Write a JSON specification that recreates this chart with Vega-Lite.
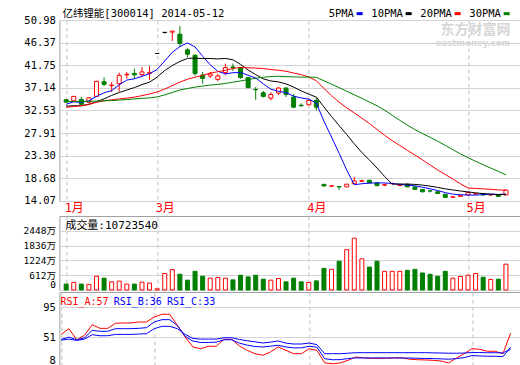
{
"$schema": "https://vega.github.io/schema/vega-lite/v6.json",
"usermeta": {"embedOptions": {"actions": false}},
"background": "white",
"padding": {"left": 22.4, "top": 8, "right": 0, "bottom": 0},
"spacing": 0,
"config": {
  "font": "DejaVu Sans Mono, Noto Sans CJK SC",
  "view": {"stroke": "#a0a0a0", "strokeWidth": 1},
  "axis": {"labelFont": "DejaVu Sans Mono, Noto Sans CJK SC", "labelFontSize": 10.5, "labelColor": "#000000", "ticks": false, "domain": false, "gridColor": "#d4d4d4", "gridWidth": 1, "labelPadding": 4, "labelOverlap": false}
},
"datasets": {"k": [
{"i":0,"o":34.72,"h":34.9,"l":34.1,"c":34.24,"v":245,"5PMA":33.8,"10PMA":33.4,"20PMA":33.2,"30PMA":34.35,"RSI_A":55,"RSI_B":47.5,"RSI_C":46.5},
{"i":1,"o":34.5,"h":35.5,"l":34.4,"c":35.4,"v":314,"5PMA":34.3,"10PMA":33.5,"20PMA":33.35,"30PMA":34.37,"RSI_A":63.5,"RSI_B":51,"RSI_C":48},
{"i":2,"o":34.8,"h":35.3,"l":33.55,"c":33.8,"v":245,"5PMA":34.2,"10PMA":33.5,"20PMA":33.5,"30PMA":34.38,"RSI_A":47,"RSI_B":47,"RSI_C":46},
{"i":3,"o":34.2,"h":35.2,"l":34.0,"c":35.1,"v":233,"5PMA":34.5,"10PMA":33.8,"20PMA":33.75,"30PMA":34.4,"RSI_A":53.6,"RSI_B":50,"RSI_C":48},
{"i":4,"o":35.4,"h":38.6,"l":35.3,"c":38.47,"v":571,"5PMA":35.4,"10PMA":34.3,"20PMA":34.2,"30PMA":34.45,"RSI_A":69.4,"RSI_B":61,"RSI_C":54.6},
{"i":5,"o":38.4,"h":39.3,"l":37.5,"c":37.86,"v":490,"5PMA":36.13,"10PMA":34.9,"20PMA":34.5,"30PMA":34.5,"RSI_A":64,"RSI_B":59.6,"RSI_C":53},
{"i":6,"o":37.6,"h":38.3,"l":36.3,"c":37.7,"v":339,"5PMA":36.59,"10PMA":35.6,"20PMA":34.7,"30PMA":34.55,"RSI_A":64,"RSI_B":59.6,"RSI_C":53},
{"i":7,"o":38.0,"h":40.26,"l":36.4,"c":39.7,"v":367,"5PMA":37.77,"10PMA":36.2,"20PMA":34.9,"30PMA":34.65,"RSI_A":71.5,"RSI_B":63.5,"RSI_C":55},
{"i":8,"o":39.8,"h":40.4,"l":39.0,"c":39.9,"v":245,"5PMA":38.73,"10PMA":36.7,"20PMA":35.05,"30PMA":34.75,"RSI_A":72,"RSI_B":63.5,"RSI_C":55},
{"i":9,"o":40.1,"h":41.07,"l":39.0,"c":39.8,"v":245,"5PMA":38.99,"10PMA":37.2,"20PMA":35.25,"30PMA":34.9,"RSI_A":72,"RSI_B":63.5,"RSI_C":55},
{"i":10,"o":39.85,"h":41.4,"l":39.56,"c":40.4,"v":326,"5PMA":39.5,"10PMA":37.81,"20PMA":35.55,"30PMA":35.0,"RSI_A":73.4,"RSI_B":64,"RSI_C":55.5},
{"i":11,"o":40.1,"h":41.6,"l":38.7,"c":40.3,"v":286,"5PMA":40.02,"10PMA":38.3,"20PMA":35.9,"30PMA":35.1,"RSI_A":73.4,"RSI_B":65,"RSI_C":56},
{"i":12,"o":44.15,"h":44.15,"l":44.15,"c":44.15,"v":50,"5PMA":40.91,"10PMA":39.34,"20PMA":36.3,"30PMA":35.3,"RSI_A":80.9,"RSI_B":73.4,"RSI_C":63.5},
{"i":13,"o":48.45,"h":48.45,"l":48.2,"c":48.45,"v":681,"5PMA":42.62,"10PMA":40.67,"20PMA":36.9,"30PMA":35.7,"RSI_A":84.9,"RSI_B":76.9,"RSI_C":67},
{"i":14,"o":48.5,"h":48.75,"l":46.7,"c":48.7,"v":845,"5PMA":44.4,"10PMA":41.7,"20PMA":37.6,"30PMA":36.2,"RSI_A":84.9,"RSI_B":76.9,"RSI_C":67},
{"i":15,"o":48.1,"h":49.75,"l":45.5,"c":46.2,"v":653,"5PMA":45.56,"10PMA":42.53,"20PMA":38.3,"30PMA":36.7,"RSI_A":68.5,"RSI_B":68,"RSI_C":63.5},
{"i":16,"o":44.9,"h":45.2,"l":43.4,"c":44.0,"v":408,"5PMA":46.3,"10PMA":43.16,"20PMA":38.9,"30PMA":37.0,"RSI_A":51,"RSI_B":52,"RSI_C":55},
{"i":17,"o":43.8,"h":44.0,"l":39.6,"c":40.05,"v":775,"5PMA":45.48,"10PMA":43.2,"20PMA":39.3,"30PMA":37.3,"RSI_A":36.3,"RSI_B":45,"RSI_C":49},
{"i":18,"o":39.75,"h":40.4,"l":38.0,"c":39.05,"v":571,"5PMA":43.6,"10PMA":43.11,"20PMA":39.7,"30PMA":37.5,"RSI_A":33.7,"RSI_B":43,"RSI_C":48},
{"i":19,"o":39.56,"h":40.4,"l":39.2,"c":39.97,"v":490,"5PMA":41.85,"10PMA":43.13,"20PMA":40.16,"30PMA":37.7,"RSI_A":37.3,"RSI_B":43,"RSI_C":48},
{"i":20,"o":38.88,"h":40.0,"l":38.5,"c":39.56,"v":518,"5PMA":40.53,"10PMA":43.04,"20PMA":40.43,"30PMA":37.85,"RSI_A":37.3,"RSI_B":43.5,"RSI_C":48},
{"i":21,"o":40.25,"h":42.1,"l":39.7,"c":41.28,"v":490,"5PMA":39.98,"10PMA":43.14,"20PMA":40.72,"30PMA":38.05,"RSI_A":47.7,"RSI_B":47,"RSI_C":50},
{"i":22,"o":41.4,"h":42.1,"l":40.6,"c":41.3,"v":420,"5PMA":40.23,"10PMA":42.86,"20PMA":41.1,"30PMA":38.3,"RSI_A":47.7,"RSI_B":47,"RSI_C":50},
{"i":23,"o":41.28,"h":41.4,"l":39.0,"c":39.23,"v":612,"5PMA":40.27,"10PMA":41.93,"20PMA":41.3,"30PMA":38.55,"RSI_A":37.7,"RSI_B":42,"RSI_C":47.5},
{"i":24,"o":39.23,"h":39.3,"l":37.1,"c":37.18,"v":543,"5PMA":39.71,"10PMA":40.78,"20PMA":41.24,"30PMA":38.85,"RSI_A":31.3,"RSI_B":39,"RSI_C":45.5},
{"i":25,"o":36.8,"h":37.3,"l":34.7,"c":36.75,"v":612,"5PMA":39.15,"10PMA":39.84,"20PMA":41.18,"30PMA":39.1,"RSI_A":26.3,"RSI_B":37,"RSI_C":44},
{"i":26,"o":36.15,"h":36.5,"l":35.2,"c":35.4,"v":449,"5PMA":37.97,"10PMA":38.98,"20PMA":41.07,"30PMA":39.3,"RSI_A":23.9,"RSI_B":36.3,"RSI_C":42.2},
{"i":27,"o":35.05,"h":36.2,"l":34.6,"c":35.8,"v":408,"5PMA":36.87,"10PMA":38.55,"20PMA":40.87,"30PMA":39.45,"RSI_A":28.8,"RSI_B":37.5,"RSI_C":43.5},
{"i":28,"o":36.1,"h":37.3,"l":35.7,"c":37.1,"v":477,"5PMA":36.45,"10PMA":38.36,"20PMA":40.73,"30PMA":39.5,"RSI_A":36.3,"RSI_B":38.8,"RSI_C":45.2},
{"i":29,"o":37.1,"h":37.3,"l":35.3,"c":35.8,"v":339,"5PMA":36.17,"10PMA":37.94,"20PMA":40.53,"30PMA":39.42,"RSI_A":31.3,"RSI_B":36.3,"RSI_C":42},
{"i":30,"o":35.25,"h":35.9,"l":33.0,"c":33.2,"v":490,"5PMA":35.46,"10PMA":37.3,"20PMA":40.17,"30PMA":39.39,"RSI_A":26.3,"RSI_B":35,"RSI_C":40.7},
{"i":31,"o":33.6,"h":34.0,"l":33.3,"c":33.5,"v":339,"5PMA":35.08,"10PMA":36.53,"20PMA":39.83,"30PMA":39.32,"RSI_A":26.3,"RSI_B":35,"RSI_C":40.7},
{"i":32,"o":33.7,"h":34.7,"l":33.6,"c":34.6,"v":314,"5PMA":34.84,"10PMA":35.86,"20PMA":39.36,"30PMA":39.35,"RSI_A":33.7,"RSI_B":37.3,"RSI_C":42.2},
{"i":33,"o":34.6,"h":35.1,"l":32.5,"c":33.2,"v":379,"5PMA":34.06,"10PMA":35.25,"20PMA":38.59,"30PMA":39.29,"RSI_A":31.3,"RSI_B":36,"RSI_C":39.7},
{"i":34,"o":17.45,"h":17.6,"l":17.0,"c":17.15,"v":898,"5PMA":30.33,"10PMA":33.25,"20PMA":37.02,"30PMA":38.58,"RSI_A":12.5,"RSI_B":18.9,"RSI_C":26.3},
{"i":35,"o":17.1,"h":17.3,"l":17.0,"c":17.15,"v":857,"5PMA":27.12,"10PMA":31.29,"20PMA":35.56,"30PMA":37.89,"RSI_A":11.4,"RSI_B":17.3,"RSI_C":26.3},
{"i":36,"o":17.0,"h":17.0,"l":16.3,"c":16.95,"v":1195,"5PMA":23.81,"10PMA":29.45,"20PMA":34.21,"30PMA":37.19,"RSI_A":12.5,"RSI_B":17.5,"RSI_C":26.3},
{"i":37,"o":16.95,"h":17.55,"l":16.9,"c":17.5,"v":1673,"5PMA":20.39,"10PMA":27.62,"20PMA":33.08,"30PMA":36.45,"RSI_A":16.4,"RSI_B":19,"RSI_C":27},
{"i":38,"o":17.6,"h":19.0,"l":17.5,"c":18.17,"v":2150,"5PMA":17.38,"10PMA":25.72,"20PMA":32.04,"30PMA":35.73,"RSI_A":21.4,"RSI_B":20,"RSI_C":27.8},
{"i":39,"o":18.1,"h":18.4,"l":17.9,"c":18.2,"v":1293,"5PMA":17.59,"10PMA":23.96,"20PMA":30.95,"30PMA":35.01,"RSI_A":20,"RSI_B":20,"RSI_C":27.8},
{"i":40,"o":18.3,"h":18.4,"l":17.7,"c":17.76,"v":951,"5PMA":17.72,"10PMA":22.42,"20PMA":29.86,"30PMA":34.26,"RSI_A":19.5,"RSI_B":20,"RSI_C":27.8},
{"i":41,"o":17.76,"h":17.9,"l":17.1,"c":17.2,"v":1195,"5PMA":17.77,"10PMA":20.79,"20PMA":28.66,"30PMA":33.49,"RSI_A":19.5,"RSI_B":20,"RSI_C":27.8},
{"i":42,"o":17.3,"h":17.6,"l":17.1,"c":17.4,"v":775,"5PMA":17.75,"10PMA":19.07,"20PMA":27.46,"30PMA":32.59,"RSI_A":19.5,"RSI_B":20,"RSI_C":27.8},
{"i":43,"o":17.6,"h":17.85,"l":17.5,"c":17.65,"v":775,"5PMA":17.64,"10PMA":17.51,"20PMA":26.38,"30PMA":31.57,"RSI_A":20,"RSI_B":20,"RSI_C":27.8},
{"i":44,"o":17.25,"h":17.5,"l":17.1,"c":17.35,"v":775,"5PMA":17.47,"10PMA":17.53,"20PMA":25.39,"30PMA":30.52,"RSI_A":20,"RSI_B":20,"RSI_C":27.8},
{"i":45,"o":17.5,"h":17.6,"l":16.9,"c":16.95,"v":816,"5PMA":17.31,"10PMA":17.51,"20PMA":24.4,"30PMA":29.55,"RSI_A":18.1,"RSI_B":19.8,"RSI_C":27.8},
{"i":46,"o":16.94,"h":17.0,"l":16.3,"c":16.45,"v":857,"5PMA":17.16,"10PMA":17.46,"20PMA":23.45,"30PMA":28.63,"RSI_A":17.3,"RSI_B":19.5,"RSI_C":27.8},
{"i":47,"o":16.4,"h":16.5,"l":15.8,"c":15.95,"v":706,"5PMA":16.87,"10PMA":17.31,"20PMA":22.46,"30PMA":27.83,"RSI_A":17,"RSI_B":19.2,"RSI_C":27.8},
{"i":48,"o":16.15,"h":16.3,"l":15.8,"c":16.1,"v":653,"5PMA":16.56,"10PMA":17.1,"20PMA":21.41,"30PMA":27.06,"RSI_A":16.4,"RSI_B":19,"RSI_C":27.5},
{"i":49,"o":15.95,"h":16.1,"l":15.5,"c":15.6,"v":571,"5PMA":16.21,"10PMA":16.84,"20PMA":20.4,"30PMA":26.25,"RSI_A":15.4,"RSI_B":18.6,"RSI_C":27.3},
{"i":50,"o":15.45,"h":15.5,"l":14.75,"c":14.8,"v":775,"5PMA":15.78,"10PMA":16.55,"20PMA":19.48,"30PMA":25.42,"RSI_A":12.5,"RSI_B":18.1,"RSI_C":27},
{"i":51,"o":14.85,"h":15.0,"l":14.7,"c":14.92,"v":490,"5PMA":15.47,"10PMA":16.32,"20PMA":18.55,"30PMA":24.54,"RSI_A":19.8,"RSI_B":19,"RSI_C":27},
{"i":52,"o":15.0,"h":15.4,"l":14.95,"c":15.28,"v":559,"5PMA":15.34,"10PMA":16.11,"20PMA":17.59,"30PMA":23.68,"RSI_A":26.3,"RSI_B":20.5,"RSI_C":27.3},
{"i":53,"o":15.3,"h":15.9,"l":15.25,"c":15.8,"v":612,"5PMA":15.28,"10PMA":15.92,"20PMA":16.72,"30PMA":22.9,"RSI_A":33.7,"RSI_B":23.5,"RSI_C":28},
{"i":54,"o":15.5,"h":15.7,"l":15.4,"c":15.55,"v":681,"5PMA":15.27,"10PMA":15.74,"20PMA":16.64,"30PMA":22.17,"RSI_A":32.8,"RSI_B":23,"RSI_C":28},
{"i":55,"o":15.6,"h":15.65,"l":15.25,"c":15.3,"v":530,"5PMA":15.37,"10PMA":15.58,"20PMA":16.54,"30PMA":21.46,"RSI_A":29.9,"RSI_B":22.5,"RSI_C":27.7},
{"i":56,"o":15.3,"h":15.5,"l":15.2,"c":15.35,"v":437,"5PMA":15.46,"10PMA":15.47,"20PMA":16.46,"30PMA":20.79,"RSI_A":29.9,"RSI_B":22.5,"RSI_C":27.7},
{"i":57,"o":15.4,"h":15.5,"l":14.95,"c":15.0,"v":449,"5PMA":15.4,"10PMA":15.37,"20PMA":16.34,"30PMA":20.1,"RSI_A":26.3,"RSI_B":22,"RSI_C":27.5},
{"i":58,"o":15.3,"h":16.4,"l":15.25,"c":16.3,"v":1072,"5PMA":15.5,"10PMA":15.39,"20PMA":16.25,"30PMA":19.4,"RSI_A":57,"RSI_B":36,"RSI_C":33}
]},
"vconcat": [
{
  "width": 461, "height": 181,
  "layer": [
    {"data": {"name": "k"},
     "mark": {"type": "rule", "strokeWidth": 1},
     "encoding": {
       "x": {"field": "i", "type": "quantitative", "title": null,
         "scale": {"domain": [-0.232, 59.25], "nice": false, "zero": false},
         "axis": {"values": [0, 12, 32, 53], "tickCount": 50, "labelExpr": "datum.value == 0 ? '1月' : datum.value == 12 ? '3月' : datum.value == 32 ? '4月' : '5月'",
           "labelColor": "#ff0000", "labelFontSize": 12, "labelAlign": "left", "labelOffset": -2, "labelPadding": 2, "labelFlush": false, "labelOverlap": false,
           "grid": true, "gridDash": [4, 3], "gridColor": "#c0c0c0"}},
       "y": {"field": "l", "type": "quantitative", "title": null,
         "scale": {"domain": [14.07, 50.98], "nice": false, "zero": false},
         "axis": {"values": [14.07, 18.68, 23.30, 27.91, 32.53, 37.14, 41.75, 46.37, 50.98], "tickCount": 50, "format": ".2f", "grid": true, "labelFlush": false, "labelOverlap": false}},
       "y2": {"field": "h"},
       "color": {"condition": [{"test": "datum.c > datum.o", "value": "#ff0000"}, {"test": "datum.c < datum.o", "value": "#008000"}], "value": "#000000"}
     }},
    {"data": {"name": "k"},
     "mark": {"type": "bar", "width": 4, "strokeWidth": 1},
     "encoding": {
       "x": {"field": "i", "type": "quantitative", "title": null},
       "y": {"field": "o", "type": "quantitative", "title": null},
       "y2": {"field": "c"},
       "fill": {"condition": [{"test": "datum.c > datum.o", "value": "#ffffff"}, {"test": "datum.c < datum.o", "value": "#008000"}], "value": "#000000"},
       "stroke": {"condition": [{"test": "datum.c > datum.o", "value": "#ff0000"}, {"test": "datum.c < datum.o", "value": "#008000"}], "value": "#000000"}
     }},
    {"data": {"name": "k"},
     "transform": [{"fold": ["5PMA", "10PMA", "20PMA", "30PMA"], "as": ["s", "val"]}],
     "mark": {"type": "line", "strokeWidth": 1},
     "encoding": {
       "x": {"field": "i", "type": "quantitative", "title": null},
       "y": {"field": "val", "type": "quantitative", "title": null},
       "color": {"field": "s", "type": "nominal",
         "scale": {"domain": ["5PMA", "10PMA", "20PMA", "30PMA"], "range": ["#0000ff", "#000000", "#ff0000", "#008000"]},
         "legend": {"orient": "none", "legendX": 3, "legendY": -12, "direction": "horizontal",
           "title": "亿纬锂能[300014] 2014-05-12", "titleOrient": "left", "titleFont": "DejaVu Sans Mono, Noto Sans CJK SC", "titleFontSize": 10.5, "titleFontWeight": "normal", "titleColor": "#000000", "titlePadding": 129,
           "labelFont": "DejaVu Sans Mono, Noto Sans CJK SC", "labelFontSize": 10.5, "labelColor": "#000000", "labelAlign": "right", "labelOffset": -11,
           "symbolType": "stroke", "symbolStrokeWidth": 3, "symbolSize": 36, "columnPadding": 1, "padding": 0}}
     }},
    {"data": {"values": [{"t": "东方财富网"}]},
     "mark": {"type": "text", "align": "right", "baseline": "middle", "fontSize": 14, "fontWeight": "bold", "color": "#d6d6d6", "font": "Noto Sans CJK SC"},
     "encoding": {"x": {"datum": 58.6, "type": "quantitative"}, "y": {"datum": 48.84, "type": "quantitative"}, "text": {"field": "t", "type": "nominal"}}},
    {"data": {"values": [{"t": "eastmoney.com"}]},
     "mark": {"type": "text", "align": "right", "baseline": "middle", "fontSize": 8.5, "fontWeight": "bold", "color": "#d6d6d6", "font": "DejaVu Sans"},
     "encoding": {"x": {"datum": 58.6, "type": "quantitative"}, "y": {"datum": 46.39, "type": "quantitative"}, "text": {"field": "t", "type": "nominal"}}}
  ]
},
{
  "width": 461, "height": 74,
  "layer": [
    {"data": {"name": "k"},
     "mark": {"type": "bar", "width": 4, "strokeWidth": 1},
     "encoding": {
       "x": {"field": "i", "type": "quantitative", "title": null,
         "scale": {"domain": [-0.232, 59.25], "nice": false, "zero": false},
         "axis": {"values": [0, 12, 32, 53], "tickCount": 50, "labels": false, "grid": true, "gridDash": [4, 3], "gridColor": "#c0c0c0"}},
       "y": {"field": "v", "type": "quantitative", "stack": null, "title": null,
         "scale": {"domain": [0, 3070], "nice": false},
         "axis": {"values": [0, 612, 1224, 1836, 2448], "tickCount": 50, "labelFontSize": 9.5, "labelExpr": "datum.value == 0 ? '0' : datum.value + '万'", "grid": true, "labelFlush": true, "labelOverlap": false}},
       "fill": {"condition": {"test": "datum.c < datum.o", "value": "#008000"}, "value": "#ffffff"},
       "stroke": {"condition": {"test": "datum.c < datum.o", "value": "#008000"}, "value": "#ff0000"}
     }},
    {"data": {"values": [{"t": "成交量:10723540"}]},
     "mark": {"type": "text", "align": "left", "baseline": "middle", "fontSize": 11, "color": "#000000"},
     "encoding": {"x": {"datum": -0.1, "type": "quantitative"}, "y": {"datum": 2667, "type": "quantitative"}, "text": {"field": "t", "type": "nominal"}}}
  ]
},
{
  "width": 461, "height": 74,
  "layer": [
    {"data": {"name": "k"},
     "mark": {"type": "line", "strokeWidth": 1, "color": "#ff0000"},
     "encoding": {
       "x": {"field": "i", "type": "quantitative", "title": null,
         "scale": {"domain": [-0.232, 59.25], "nice": false, "zero": false},
         "axis": {"values": [0, 12, 32, 53], "tickCount": 50, "labels": false, "grid": true, "gridDash": [4, 3], "gridColor": "#c0c0c0"}},
       "y": {"field": "RSI_A", "type": "quantitative", "title": null,
         "scale": {"domain": [8, 118.05], "nice": false, "zero": false},
         "axis": {"values": [8, 51, 95], "tickCount": 50, "grid": true, "labelFlush": true, "labelOverlap": false}}}},
    {"data": {"name": "k"},
     "mark": {"type": "line", "strokeWidth": 1, "color": "#0000ff"},
     "encoding": {"x": {"field": "i", "type": "quantitative", "title": null}, "y": {"field": "RSI_B", "type": "quantitative", "title": null}}},
    {"data": {"name": "k"},
     "mark": {"type": "line", "strokeWidth": 1, "color": "#0000ff"},
     "encoding": {"x": {"field": "i", "type": "quantitative", "title": null}, "y": {"field": "RSI_C", "type": "quantitative", "title": null}}},
    {"data": {"values": [{"t": "RSI_A:57"}]},
     "mark": {"type": "text", "align": "left", "baseline": "middle", "fontSize": 10, "color": "#ff0000"},
     "encoding": {"x": {"datum": -0.1, "type": "quantitative"}, "y": {"datum": 103.2, "type": "quantitative"}, "text": {"field": "t", "type": "nominal"}}},
    {"data": {"values": [{"t": "RSI_B:36"}]},
     "mark": {"type": "text", "align": "left", "baseline": "middle", "fontSize": 10, "color": "#0000ff"},
     "encoding": {"x": {"datum": 6.77, "type": "quantitative"}, "y": {"datum": 103.2, "type": "quantitative"}, "text": {"field": "t", "type": "nominal"}}},
    {"data": {"values": [{"t": "RSI_C:33"}]},
     "mark": {"type": "text", "align": "left", "baseline": "middle", "fontSize": 10, "color": "#0000ff"},
     "encoding": {"x": {"datum": 13.66, "type": "quantitative"}, "y": {"datum": 103.2, "type": "quantitative"}, "text": {"field": "t", "type": "nominal"}}}
  ]
}
]
}
